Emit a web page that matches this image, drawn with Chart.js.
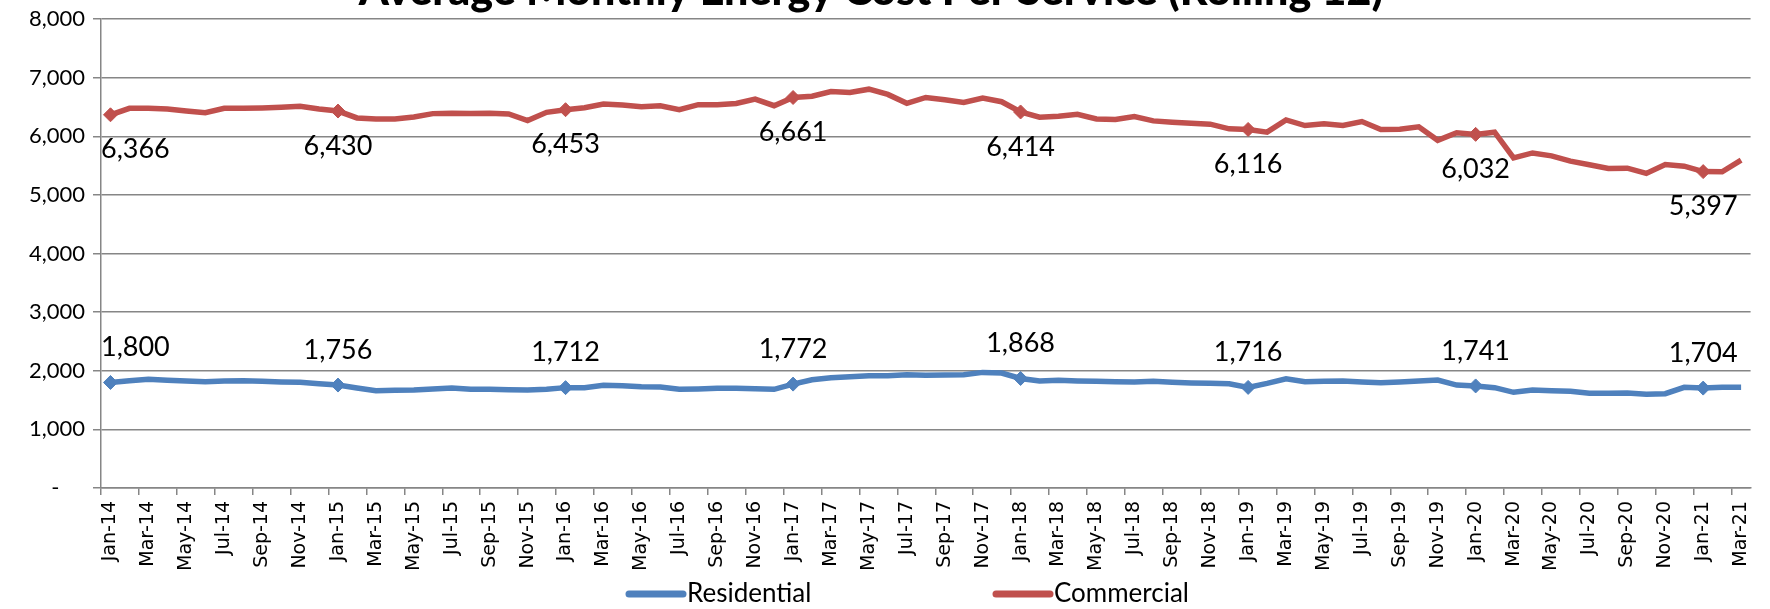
<!DOCTYPE html>
<html lang="en">
<head>
  <meta charset="UTF-8" />
  <title>Average Monthly Energy Cost Per Service (Rolling 12)</title>
  <script src="https://cdn.jsdelivr.net/npm/chart.js"></script>
  <style>
    body { margin: 0; padding: 0; background: #fff; }
    #wrap { width: 1770px; height: 609px; position: relative; }
  </style>
</head>
<body>
  <div id="wrap"><canvas id="costChart"></canvas></div>

  <script>
    const months = [
      "Jan-14","Feb-14","Mar-14","Apr-14","May-14","Jun-14","Jul-14","Aug-14","Sep-14","Oct-14","Nov-14","Dec-14",
      "Jan-15","Feb-15","Mar-15","Apr-15","May-15","Jun-15","Jul-15","Aug-15","Sep-15","Oct-15","Nov-15","Dec-15",
      "Jan-16","Feb-16","Mar-16","Apr-16","May-16","Jun-16","Jul-16","Aug-16","Sep-16","Oct-16","Nov-16","Dec-16",
      "Jan-17","Feb-17","Mar-17","Apr-17","May-17","Jun-17","Jul-17","Aug-17","Sep-17","Oct-17","Nov-17","Dec-17",
      "Jan-18","Feb-18","Mar-18","Apr-18","May-18","Jun-18","Jul-18","Aug-18","Sep-18","Oct-18","Nov-18","Dec-18",
      "Jan-19","Feb-19","Mar-19","Apr-19","May-19","Jun-19","Jul-19","Aug-19","Sep-19","Oct-19","Nov-19","Dec-19",
      "Jan-20","Feb-20","Mar-20","Apr-20","May-20","Jun-20","Jul-20","Aug-20","Sep-20","Oct-20","Nov-20","Dec-20",
      "Jan-21","Feb-21","Mar-21"
    ];

    const residential = [
      1800, 1830, 1853, 1836, 1824, 1813, 1824, 1830, 1819, 1807, 1802, 1779,
      1756, 1705, 1660, 1666, 1671, 1688, 1705, 1683, 1683, 1677, 1671, 1683,
      1712, 1711, 1751, 1745, 1728, 1722, 1683, 1688, 1700, 1700, 1694, 1683,
      1772, 1847, 1881, 1898, 1915, 1915, 1932, 1925, 1926, 1932, 1972, 1960,
      1868, 1824, 1836, 1824, 1819, 1813, 1807, 1819, 1802, 1790, 1785, 1779,
      1716, 1785, 1864, 1813, 1819, 1824, 1807, 1796, 1807, 1824, 1841, 1756,
      1741, 1711, 1632, 1671, 1660, 1649, 1615, 1615, 1620, 1598, 1609, 1717,
      1704, 1717, 1717
    ];

    const commercial = [
      6366, 6476, 6476, 6465, 6431, 6403, 6476, 6476, 6482, 6493, 6510, 6465,
      6430, 6313, 6296, 6296, 6330, 6386, 6392, 6386, 6392, 6380, 6268, 6408,
      6453, 6487, 6549, 6532, 6504, 6521, 6454, 6538, 6538, 6560, 6634, 6521,
      6661, 6684, 6763, 6746, 6803, 6713, 6561, 6662, 6622, 6577, 6651, 6589,
      6414, 6324, 6341, 6375, 6296, 6285, 6335, 6262, 6240, 6223, 6206, 6127,
      6116, 6070, 6279, 6183, 6211, 6183, 6251, 6115, 6121, 6161, 5930, 6059,
      6032, 6070, 5631, 5715, 5665, 5575, 5513, 5451, 5456, 5366, 5518, 5490,
      5397, 5394, 5592
    ];

    const yTicks = [0, 1000, 2000, 3000, 4000, 5000, 6000, 7000, 8000];
    const chartTitle = "Average Monthly Energy Cost Per Service (Rolling 12)";

    const BLUE = "#4F81BD";
    const RED = "#C0504D";
    const GRID = "#868686";

    function fmt(v) {
      return v.toLocaleString("en-US");
    }

    // markers only on January points
    const isJan = ctx => ctx.dataIndex % 12 === 0;

    // title sits half outside the top edge, like the source
    const titlePlugin = {
      id: "cutTitle",
      afterDraw(chart) {
        const c = chart.ctx;
        c.save();
        c.font = "900 43px Lato";
        c.fillStyle = "#000";
        c.textAlign = "center";
        c.textBaseline = "alphabetic";
        c.fillText(chartTitle, 871, 5);
        c.restore();
      }
    };

    // value labels at January points
    const valueLabels = {
      id: "valueLabels",
      afterDatasetsDraw(chart) {
        const c = chart.ctx;
        const area = chart.chartArea;
        c.save();
        c.font = "27px Lato";
        c.fillStyle = "#000";
        c.textAlign = "center";
        c.textBaseline = "middle";
        chart.data.datasets.forEach((ds, di) => {
          const meta = chart.getDatasetMeta(di);
          meta.data.forEach((pt, i) => {
            if (i % 12 !== 0) return;
            const txt = fmt(ds.data[i]);
            const w = c.measureText(txt).width;
            let x = Math.max(pt.x, area.left + w / 2);
            x = Math.min(x, area.right - w / 2);
            const y = ds.labelBelow ? pt.y + 35 : pt.y - 35;
            c.fillText(txt, x, y);
          });
        });
        c.restore();
      }
    };

    // legend drawn under the axis labels
    const bottomLegend = {
      id: "bottomLegend",
      afterDraw(chart) {
        const c = chart.ctx;
        const spots = [629, 996];
        c.save();
        c.font = "26px Lato";
        c.textBaseline = "middle";
        c.textAlign = "left";
        chart.data.datasets.forEach((ds, i) => {
          const x = spots[i], y = 594;
          c.strokeStyle = ds.borderColor;
          c.lineWidth = 7;
          c.lineCap = "round";
          c.beginPath();
          c.moveTo(x, y);
          c.lineTo(x + 54, y);
          c.stroke();
          c.fillStyle = "#000";
          c.fillText(ds.label, x + 58, y);
        });
        c.restore();
      }
    };

    const ctx = document.getElementById("costChart").getContext("2d");
    new Chart(ctx, {
      type: "line",
      data: {
        labels: months,
        datasets: [
          {
            label: "Residential",
            data: residential,
            borderColor: BLUE,
            backgroundColor: BLUE,
            borderWidth: 5.5,
            tension: 0,
            pointStyle: "rectRot",
            pointRadius: ctx => isJan(ctx) ? 7 : 0,
            pointBorderWidth: 1,
            labelBelow: false
          },
          {
            label: "Commercial",
            data: commercial,
            borderColor: RED,
            backgroundColor: RED,
            borderWidth: 5.5,
            tension: 0,
            pointStyle: "rectRot",
            pointRadius: ctx => isJan(ctx) ? 7 : 0,
            pointBorderWidth: 1,
            labelBelow: true
          }
        ]
      },
      options: {
        responsive: true,
        maintainAspectRatio: false,
        animation: false,
        layout: { padding: { top: 11, right: 18, bottom: 40, left: 0 } },
        plugins: {
          legend: { display: false },
          tooltip: { enabled: false },
          title: { display: false }
        },
        scales: {
          x: {
            offset: true,
            grid: {
              offset: true,
              drawOnChartArea: false,
              tickLength: 7,
              lineWidth: 1.5,
              color: c => c.index % 2 === 0 ? GRID : "transparent"
            },
            border: { color: GRID, width: 1.5 },
            ticks: {
              autoSkip: false,
              maxRotation: 90,
              minRotation: 90,
              padding: 6,
              color: "#000",
              font: { family: "DejaVu Sans", size: 19 },
              callback: function (v, i) {
                return i % 2 === 0 ? this.getLabelForValue(v) : "";
              }
            },
            afterFit: s => { s.height = 81; }
          },
          y: {
            min: yTicks[0],
            max: yTicks[yTicks.length - 1],
            afterBuildTicks: s => { s.ticks = yTicks.map(v => ({ value: v })); },
            grid: { color: GRID, tickLength: 8, lineWidth: 1.5 },
            border: { color: GRID, width: 1.5 },
            ticks: {
              padding: 8,
              color: "#000",
              font: { family: "Lato", size: 22, lineHeight: 1 },
              callback: v => v === 0 ? "-\u2007\u2007" : fmt(v)
            },
            afterFit: s => { s.width = 101; }
          }
        }
      },
      plugins: [titlePlugin, valueLabels, bottomLegend]
    });
  </script>
</body>
</html>
